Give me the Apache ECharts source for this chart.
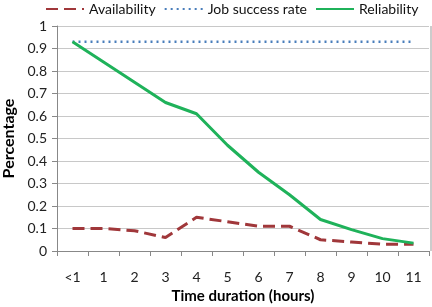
<!DOCTYPE html>
<html><head><meta charset="utf-8">
<script src="https://cdn.jsdelivr.net/npm/echarts@6/dist/echarts.min.js"></script>
<style>html,body{margin:0;padding:0;background:#fff}#c{width:432px;height:307px}</style>
</head><body><div id="c"></div>
<script>
const categories = ['<1','1','2','3','4','5','6','7','8','9','10','11'];
const availability = [0.10,0.10,0.09,0.06,0.15,0.13,0.11,0.11,0.05,0.04,0.03,0.03];
const jobSuccessRate = [0.93,0.93,0.93,0.93,0.93,0.93,0.93,0.93,0.93,0.93,0.93,0.93];
const reliability = [0.93,0.84,0.75,0.66,0.61,0.47,0.35,0.25,0.14,0.095,0.055,0.035];
const yTicks = [0,0.1,0.2,0.3,0.4,0.5,0.6,0.7,0.8,0.9,1];

const font = 'Lato';
const chart = echarts.init(document.getElementById('c'), null, {renderer:'canvas'});
chart.setOption({
  animation:false,
  textStyle:{fontFamily:font},
  legend:{
    top:2, left:45, width:387, padding:0, itemWidth:38, itemHeight:10, itemGap:8,
    itemStyle:{opacity:0},
    textStyle:{fontFamily:font, fontSize:14, color:'#111'},
    data:['Availability','Job success rate','Reliability']
  },
  grid:{left:57, right:3, top:26, bottom:56, containLabel:false, outerBoundsMode:'none'},
  xAxis:{
    type:'category', data:categories, boundaryGap:true,
    name:'Time duration (hours)', nameLocation:'middle', nameGap:29,
    nameTextStyle:{fontFamily:font, fontSize:15, fontWeight:'bold', color:'#000'},
    axisLine:{lineStyle:{color:'#888'}},
    axisTick:{show:true, length:5, lineStyle:{color:'#888'}},
    axisLabel:{fontFamily:font, fontSize:14, color:'#222', margin:19}
  },
  yAxis:{
    type:'value', min:0, max:1, interval:0.1,
    name:'Percentage', nameLocation:'middle', nameGap:37, nameRotate:90,
    nameTextStyle:{fontFamily:font, fontSize:16, fontWeight:'bold', color:'#000'},
    axisLine:{show:true, lineStyle:{color:'#888'}},
    axisTick:{show:true, length:5, lineStyle:{color:'#888'}},
    splitLine:{lineStyle:{color:'#c8c8c8'}},
    axisLabel:{fontFamily:font, fontSize:14, color:'#222', margin:10,
      formatter:v=>{const t=yTicks.find(x=>Math.abs(x-v)<1e-9); return t===undefined?'':String(Math.round(t*10)/10);}}
  },
  graphic:[{type:'line', shape:{x1:431, y1:26, x2:431, y2:251}, style:{stroke:'#999', lineWidth:1}}],
  series:[
    {name:'Availability', type:'line', data:availability, symbol:'none',
     lineStyle:{color:'#a0373a', width:3, type:[12,6]}, itemStyle:{color:'#a0373a'}},
    {name:'Job success rate', type:'line', data:jobSuccessRate, symbol:'none',
     lineStyle:{color:'#4a7ebb', width:2.5, type:[2,4]}, itemStyle:{color:'#4a7ebb'}},
    {name:'Reliability', type:'line', data:reliability, symbol:'none',
     lineStyle:{color:'#1fb25a', width:3}, itemStyle:{color:'#1fb25a'}}
  ]
});
</script></body></html>
